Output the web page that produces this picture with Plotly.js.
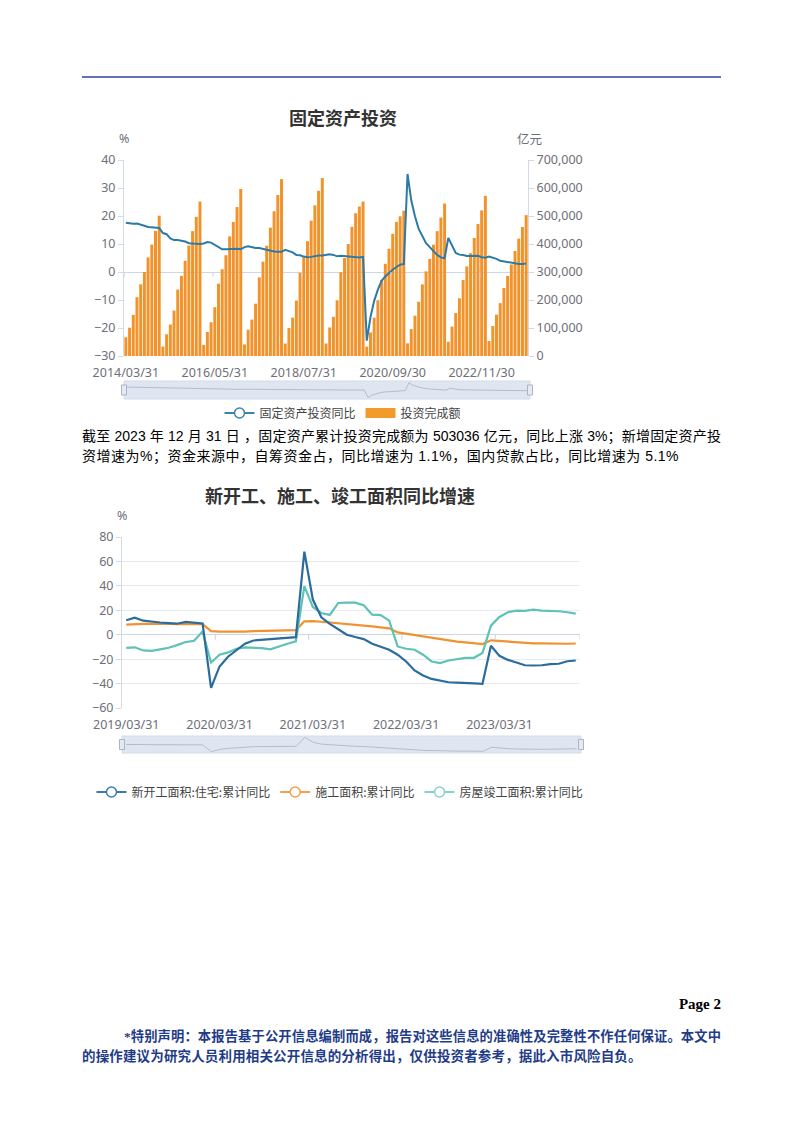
<!DOCTYPE html>
<html>
<head>
<meta charset="utf-8">
<script src="https://cdn.plot.ly/plotly-3.0.1.min.js"></script>
<style>
  html, body { margin: 0; padding: 0; background: #fff; }
  #page { position: relative; width: 802px; height: 1133px; overflow: hidden; background: #fff; }
  #chart { position: absolute; left: 0; top: 0; width: 802px; height: 1133px; }
  .txt { position: absolute; white-space: nowrap; font-family: "Liberation Sans", "Noto Sans CJK SC", sans-serif; color: #000; }
  .just { text-align: justify; text-align-last: justify; white-space: normal; }
  .foot { font-family: "Liberation Serif", "Noto Sans CJK SC", serif; font-weight: bold; color: #1f3c88; line-height: 20px; }
</style>
</head>
<body>
<div id="page">
  <div id="chart"></div>
  <div class="txt just" style="left:82px; top:426px; width:639px; font-size:14px; line-height:20px;">截至 2023 年 12 月 31 日 ，固定资产累计投资完成额为 503036 亿元，同比上涨 3%；新增固定资产投</div>
  <div class="txt" style="left:82px; top:446px; font-size:14px; line-height:20px; letter-spacing:0.5px;">资增速为%；资金来源中，自筹资金占，同比增速为 1.1%，国内贷款占比，同比增速为 5.1%</div>
  <div class="txt" style="right:81px; top:994px; font-family:'Liberation Serif',serif; font-weight:bold; font-size:15px; line-height:20px;">Page 2</div>
  <div class="txt foot just" style="left:124px; top:1027px; width:597px; font-size:13.3px;">*特别声明：本报告基于公开信息编制而成，报告对这些信息的准确性及完整性不作任何保证。本文中</div>
  <div class="txt foot" style="left:82px; top:1047px; font-size:13.5px; letter-spacing:0.15px;">的操作建议为研究人员利用相关公开信息的分析得出，仅供投资者参考，据此入市风险自负。</div>
</div>
<script>
// ---------------- Data: chart 1 (固定资产投资) ----------------
// Monthly cumulative data, Jan-Feb reported together (first year starts in March)
const invYears = [2014, 2015, 2016, 2017, 2018, 2019, 2020, 2021, 2022, 2023];
const invFirstMonth = 3;          // 2014 starts in March, later years start in February
const invTickLabels = ['2014/03/31', '2016/05/31', '2018/07/31', '2020/09/30', '2022/11/30'];

// 投资完成额 (亿元)
const investAmount = [
  67000, 101000, 147000, 210000, 256000, 300000, 352000, 398000, 447000, 501000,
  34000, 77500, 112300, 162200, 237100, 286300, 340000, 394500, 446000, 497000, 551600,
  39600, 85800, 120400, 174200, 258400, 310000, 360000, 426900, 479000, 532000, 596500,
  41400, 93800, 130000, 187000, 280600, 337000, 394000, 458500, 517000, 575000, 631700,
  44600, 100000, 137000, 198000, 297300, 353000, 410000, 483400, 538000, 590000, 635600,
  44800, 101900, 140000, 199000, 299100, 350000, 400000, 461200, 510000, 533700, 551500,
  33300, 84100, 136800, 199200, 271800, 329200, 383200, 436500, 479000, 499000, 518900,
  45200, 96000, 143800, 193900, 255900, 302300, 346900, 397800, 445800, 494100, 544500,
  50800, 104900, 153500, 206000, 271400, 319800, 367100, 421400, 471500, 520000, 572100,
  53600, 107300, 147500, 188800, 243100, 285900, 327000, 375000, 419400, 460800, 503000
];
// 固定资产投资同比 (%)
const investYoY = [
  17.6, 17.3, 17.2, 17.3, 17.0, 16.5, 16.1, 15.9, 15.8, 15.7,
  13.9, 13.5, 12.0, 11.4, 11.4, 11.2, 10.9, 10.3, 10.2, 10.2, 10.0,
  10.2, 10.7, 10.5, 9.6, 9.0, 8.1, 8.1, 8.2, 8.3, 8.3, 8.1,
  8.9, 9.2, 8.9, 8.6, 8.6, 8.3, 7.8, 7.5, 7.3, 7.2, 7.2,
  7.9, 7.5, 7.0, 6.1, 6.0, 5.5, 5.3, 5.4, 5.7, 5.9, 5.9,
  6.1, 6.3, 6.1, 5.6, 5.8, 5.7, 5.5, 5.4, 5.2, 5.2, 5.4,
  -24.5, -16.1, -10.3, -6.3, -3.1, -1.6, -0.3, 0.8, 1.8, 2.6, 2.9,
  35.0, 25.6, 19.9, 15.4, 12.6, 10.3, 8.9, 7.3, 6.1, 5.2, 4.9,
  12.2, 9.3, 6.8, 6.2, 6.1, 5.7, 5.8, 5.9, 5.8, 5.3, 5.1,
  5.5, 5.1, 4.7, 4.0, 3.8, 3.4, 3.2, 3.1, 2.9, 2.9, 3.0
];

// ---------------- Data: chart 2 (新开工、施工、竣工面积同比增速) ----------------
const areaYears = [2019, 2020, 2021, 2022, 2023];
const areaFirstMonth = 3;
const areaTickLabels = ['2019/03/31', '2020/03/31', '2021/03/31', '2022/03/31', '2023/03/31'];

// 新开工面积:住宅:累计同比
const newStartYoY = [
  11.8, 14.0, 11.5, 10.5, 10.0, 9.5, 9.0, 10.5, 9.8, 9.2,
  -43.6, -26.0, -18.0, -12.9, -7.4, -4.7, -4.2, -3.8, -3.2, -2.6, -2.0,
  68.0, 28.8, 14.3, 8.8, 4.5, 0.0, -1.9, -3.6, -7.4, -9.6, -12.3,
  -16.4, -21.9, -29.3, -33.4, -36.2, -37.8, -38.9, -39.2, -39.2, -39.8, -40.3,
  -9.0, -17.3, -20.6, -22.7, -25.0, -25.2, -25.0, -24.1, -23.8, -21.7, -21.1
];
// 施工面积:累计同比
const underConstrYoY = [
  8.2, 8.8, 8.8, 8.8, 9.0, 8.8, 8.7, 9.0, 8.7, 8.7,
  2.9, 2.6, 2.5, 2.6, 2.6, 3.0, 3.1, 3.1, 3.2, 3.4, 3.7,
  11.0, 11.2, 10.6, 10.0, 9.6, 9.0, 8.2, 7.7, 6.9, 6.0, 5.2,
  1.9, 0.8, -0.3, -1.6, -3.0, -4.0, -4.9, -5.7, -6.3, -7.1, -7.7,
  -4.6, -5.2, -5.7, -6.3, -6.8, -7.1, -7.1, -7.4, -7.4, -7.4, -7.2
];
// 房屋竣工面积:累计同比
const completedYoY = [
  -10.7, -10.3, -12.9, -13.2, -12.0, -10.7, -8.5, -6.0, -5.0, 2.7,
  -22.7, -16.4, -14.5, -11.5, -10.4, -10.7, -11.0, -12.0, -9.6, -7.4, -5.5,
  39.8, 22.7, 17.8, 16.2, 26.0, 26.3, 26.3, 24.1, 16.4, 16.0, 11.5,
  -9.6, -11.5, -12.3, -16.4, -21.9, -23.3, -21.1, -19.7, -18.9, -18.9, -15.0,
  7.4, 14.5, 18.4, 19.7, 19.5, 20.5, 19.7, 19.7, 19.2, 18.4, 17.3
];

const seriesNames = ['固定资产投资同比', '投资完成额', '新开工面积:住宅:累计同比', '施工面积:累计同比', '房屋竣工面积:累计同比'];

// ---------------- Category labels (month-end dates) ----------------
function monthEnd(y, m) {
  const days = [31, (y % 4 === 0 ? 29 : 28), 31, 30, 31, 30, 31, 31, 30, 31, 30, 31];
  return y + '/' + String(m).padStart(2, '0') + '/' + days[m - 1];
}
function buildCats(years, firstMonth) {
  const out = [];
  years.forEach((y, i) => {
    for (let m = (i === 0 ? firstMonth : 2); m <= 12; m++) out.push(monthEnd(y, m));
  });
  return out;
}
const cats1 = buildCats(invYears, invFirstMonth);
const cats2 = buildCats(areaYears, areaFirstMonth);

// ---------------- Layout helpers ----------------
const W = 802, H = 1133;
const X = v => v / W;
const Y = v => 1 - v / H;
const TICKF = { family: '"Noto Sans", "Noto Sans CJK SC", sans-serif', size: 12.5, color: '#6e7079' };
const CJK = '"Noto Sans CJK SC", sans-serif';
const AXC = '#d3dae6';

const C_LINE1 = '#2b7aa8', C_BAR = '#f2922a';
const C_NEW = '#2a6c9c', C_CON = '#f29130', C_COM = '#5ec2b6';

const traces = [
  // legend 1 entries
  { type: 'scatter', x: [null], y: [null], xaxis: 'x', yaxis: 'y2', mode: 'lines+markers', name: seriesNames[0],
    line: { color: '#3a84b0', width: 2 }, marker: { symbol: 'circle', size: 10, color: '#fff', line: { color: '#3a84b0', width: 1.5 } },
    legend: 'legend', hoverinfo: 'skip' },
  { type: 'scatter', x: [null], y: [null], xaxis: 'x', yaxis: 'y', mode: 'lines', name: seriesNames[1],
    line: { color: '#f39a2c', width: 10 }, legend: 'legend', hoverinfo: 'skip' },
  // bars
  { type: 'bar', x: cats1, y: investAmount, xaxis: 'x', yaxis: 'y', marker: { color: C_BAR }, showlegend: false, name: seriesNames[1] },
  // line
  { type: 'scatter', mode: 'lines', x: cats1, y: investYoY, xaxis: 'x', yaxis: 'y2', line: { color: C_LINE1, width: 2 }, showlegend: false, name: seriesNames[0] },
  // data shadow in slider 1
  { type: 'scatter', mode: 'lines', x: cats1, y: investYoY, xaxis: 'x2', yaxis: 'y3', line: { color: '#b3bdd0', width: 1 }, showlegend: false, hoverinfo: 'skip' },

  // chart 2 lines
  { type: 'scatter', mode: 'lines', x: cats2, y: underConstrYoY, xaxis: 'x3', yaxis: 'y4', line: { color: C_CON, width: 2.2 }, showlegend: false, name: seriesNames[3] },
  { type: 'scatter', mode: 'lines', x: cats2, y: completedYoY, xaxis: 'x3', yaxis: 'y4', line: { color: C_COM, width: 2.2 }, showlegend: false, name: seriesNames[4] },
  { type: 'scatter', mode: 'lines', x: cats2, y: newStartYoY, xaxis: 'x3', yaxis: 'y4', line: { color: C_NEW, width: 2.2 }, showlegend: false, name: seriesNames[2] },
  // legend 2 entries
  { type: 'scatter', x: [null], y: [null], xaxis: 'x3', yaxis: 'y4', mode: 'lines+markers', name: seriesNames[2],
    line: { color: '#3a7ea8', width: 2 }, marker: { symbol: 'circle', size: 10, color: '#fff', line: { color: '#3a7ea8', width: 1.5 } }, legend: 'legend2' },
  { type: 'scatter', x: [null], y: [null], xaxis: 'x3', yaxis: 'y4', mode: 'lines+markers', name: seriesNames[3],
    line: { color: '#f5a04a', width: 2 }, marker: { symbol: 'circle', size: 10, color: '#fff', line: { color: '#f5a04a', width: 1.5 } }, legend: 'legend2' },
  { type: 'scatter', x: [null], y: [null], xaxis: 'x3', yaxis: 'y4', mode: 'lines+markers', name: seriesNames[4],
    line: { color: '#86d2cf', width: 2 }, marker: { symbol: 'circle', size: 10, color: '#fff', line: { color: '#86d2cf', width: 1.5 } }, legend: 'legend2' },
  // data shadow in slider 2
  { type: 'scatter', mode: 'lines', x: cats2, y: newStartYoY, xaxis: 'x4', yaxis: 'y5', line: { color: '#b3bdd0', width: 1 }, showlegend: false, hoverinfo: 'skip' }
];

function zeroTicks(positions, xref, yref, len) {
  return positions.map(p => ({ type: 'line', xref: xref, yref: yref, x0: p, x1: p, y0: 0, y1: -len, line: { color: '#c9d2e2', width: 1 } }));
}
function slider(x0, x1, y0, y1) {
  const mid = (y0 + y1) / 2;
  return [
    { type: 'rect', xref: 'paper', yref: 'paper', x0: X(x0), x1: X(x1), y0: Y(y1), y1: Y(y0), fillcolor: 'rgba(213,221,236,0.75)', line: { color: '#d2dbea', width: 1 }, layer: 'below' },
    { type: 'rect', xref: 'paper', yref: 'paper', x0: X(x0 - 2.5), x1: X(x0 + 2.5), y0: Y(mid + 5), y1: Y(mid - 5), fillcolor: '#e4e9f2', line: { color: '#aab5c9', width: 1 } },
    { type: 'rect', xref: 'paper', yref: 'paper', x0: X(x1 - 2.5), x1: X(x1 + 2.5), y0: Y(mid + 5), y1: Y(mid - 5), fillcolor: '#e4e9f2', line: { color: '#aab5c9', width: 1 } }
  ];
}

const shapes = [
  { type: 'line', xref: 'paper', yref: 'paper', x0: X(82), x1: X(721), y0: Y(77), y1: Y(77), line: { color: '#2a45a0', width: 1.5 } },
  ...slider(124, 530, 381, 399),
  ...slider(122, 581, 736, 753),
  ...zeroTicks([-0.5, 23.5, 47.5, 71.5, 95.5], 'x', 'y2', 1.8),
  ...zeroTicks([10.5, 21.5, 32.5, 43.5, 53.5], 'x3', 'y4', 4)
];

const annotations = [
  { text: '<b>固定资产投资</b>', x: X(343), y: Y(117), xref: 'paper', yref: 'paper', xanchor: 'center', yanchor: 'middle', showarrow: false, font: { family: CJK, size: 18, color: '#333' } },
  { text: '%', x: X(124.5), y: Y(138), xref: 'paper', yref: 'paper', xanchor: 'center', yanchor: 'middle', showarrow: false, font: TICKF },
  { text: '亿元', x: X(529), y: Y(138), xref: 'paper', yref: 'paper', xanchor: 'center', yanchor: 'middle', showarrow: false, font: { family: CJK, size: 12.5, color: '#6e7079' } },
  { text: '<b>新开工、施工、竣工面积同比增速</b>', x: X(340), y: Y(495), xref: 'paper', yref: 'paper', xanchor: 'center', yanchor: 'middle', showarrow: false, font: { family: CJK, size: 18, color: '#333' } },
  { text: '%', x: X(121.5), y: Y(515), xref: 'paper', yref: 'paper', xanchor: 'center', yanchor: 'middle', showarrow: false, font: TICKF }
];

const layout = {
  width: W, height: H, autosize: false,
  margin: { l: 0, r: 0, t: 0, b: 0, pad: 0 },
  paper_bgcolor: 'rgba(0,0,0,0)', plot_bgcolor: 'rgba(0,0,0,0)',
  bargap: 0.2,
  showlegend: true,
  // chart 1
  xaxis: { domain: [X(124), X(528)], anchor: 'y', type: 'category', range: [-0.5, cats1.length - 0.5],
    tickmode: 'array', tickvals: invTickLabels, ticktext: invTickLabels, ticks: '', ticklabelstandoff: 7,
    showline: false, showgrid: false, zeroline: false, tickfont: TICKF, fixedrange: true },
  yaxis: { domain: [Y(356), Y(160)], anchor: 'x', side: 'right', range: [0, 700000],
    tickmode: 'array', tickvals: [0, 100000, 200000, 300000, 400000, 500000, 600000, 700000],
    tickformat: ',.0f', showline: true, linecolor: AXC, ticks: 'outside', ticklen: 5, tickcolor: AXC,
    showgrid: false, zeroline: false, tickfont: TICKF, fixedrange: true },
  yaxis2: { overlaying: 'y', anchor: 'x', side: 'left', range: [-30, 40], tickmode: 'linear', tick0: 0, dtick: 10,
    showline: true, linecolor: AXC, ticks: 'outside', ticklen: 5, tickcolor: AXC,
    showgrid: false, zeroline: true, zerolinecolor: '#cdd6e6', zerolinewidth: 1, tickfont: TICKF, fixedrange: true },
  // slider 1 data shadow
  xaxis2: { domain: [X(124), X(530)], anchor: 'y3', type: 'category', range: [-0.5, cats1.length - 0.5], visible: false },
  yaxis3: { domain: [Y(398), Y(382)], anchor: 'x2', range: [-27, 38], visible: false },
  // chart 2
  xaxis3: { domain: [X(122), X(580)], anchor: 'y4', type: 'category', range: [-0.5, cats2.length - 0.5],
    tickmode: 'array', tickvals: areaTickLabels, ticktext: areaTickLabels, ticks: '', ticklabelstandoff: 7,
    showline: false, showgrid: false, zeroline: false, tickfont: TICKF, fixedrange: true },
  yaxis4: { domain: [Y(708), Y(537)], anchor: 'x3', range: [-60, 80], tickmode: 'linear', tick0: 0, dtick: 20,
    showline: true, linecolor: AXC, ticks: 'outside', ticklen: 5, tickcolor: AXC,
    showgrid: true, gridcolor: '#e6eaf2', gridwidth: 1, zeroline: true, zerolinecolor: '#cdd6e6', zerolinewidth: 1,
    tickfont: TICKF, fixedrange: true },
  // slider 2 data shadow
  xaxis4: { domain: [X(122), X(581)], anchor: 'y5', type: 'category', range: [-0.5, cats2.length - 0.5], visible: false },
  yaxis5: { domain: [Y(752), Y(737)], anchor: 'x4', range: [-46, 70], visible: false },
  legend: { orientation: 'h', x: X(343), xanchor: 'center', y: Y(413), yanchor: 'middle',
    font: { family: CJK, size: 12, color: '#444' }, bgcolor: 'rgba(0,0,0,0)', traceorder: 'normal' },
  legend2: { orientation: 'h', x: X(340), xanchor: 'center', y: Y(792), yanchor: 'middle',
    font: { family: CJK, size: 12, color: '#444' }, bgcolor: 'rgba(0,0,0,0)', traceorder: 'normal' },
  shapes: shapes,
  annotations: annotations
};

Plotly.newPlot('chart', traces, layout, { staticPlot: true, displayModeBar: false });
</script>
</body>
</html>
